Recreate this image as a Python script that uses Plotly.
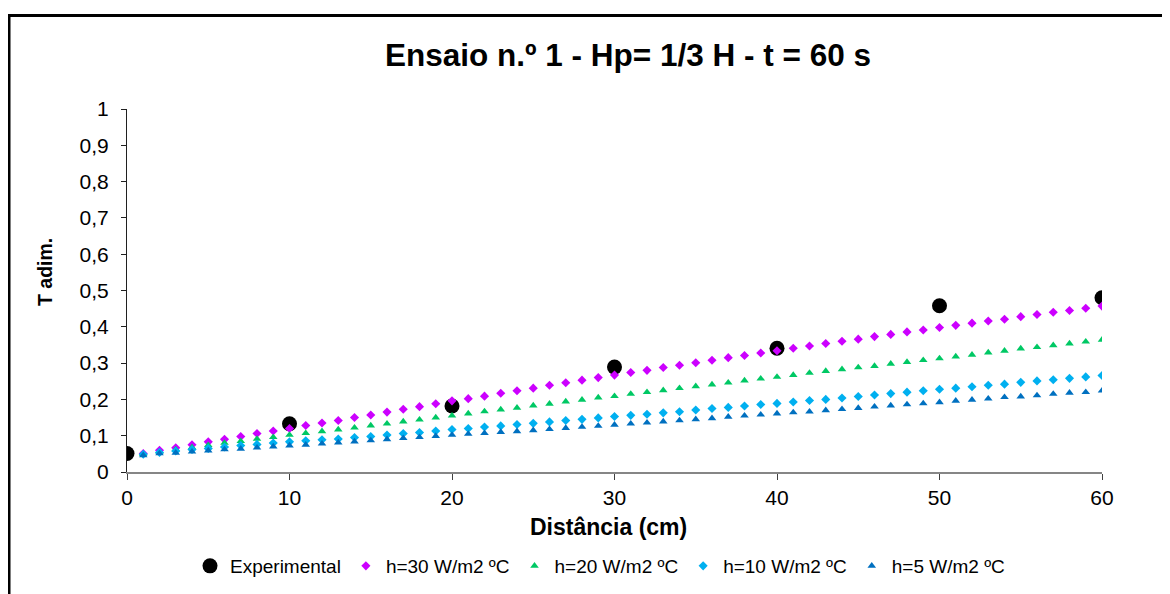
import plotly.graph_objects as go

# ---- data ----
exp_x = [0, 10, 20, 30, 40, 50, 60]
exp_y = [0.051, 0.133, 0.182, 0.289, 0.341, 0.458, 0.480]

model_x = list(range(1, 61))

h30 = [0.051, 0.060, 0.067, 0.075, 0.083, 0.090, 0.098, 0.106, 0.113, 0.120,
       0.128, 0.135, 0.142, 0.150, 0.157, 0.165, 0.173, 0.180, 0.188, 0.196,
       0.202, 0.209, 0.217, 0.224, 0.231, 0.239, 0.246, 0.253, 0.260, 0.267,
       0.274, 0.280, 0.288, 0.294, 0.301, 0.308, 0.315, 0.321, 0.328, 0.334,
       0.341, 0.347, 0.354, 0.360, 0.366, 0.373, 0.379, 0.386, 0.391, 0.398,
       0.404, 0.410, 0.416, 0.421, 0.428, 0.434, 0.440, 0.445, 0.451, 0.457]

h20 = [0.049, 0.056, 0.062, 0.068, 0.074, 0.080, 0.085, 0.091, 0.096, 0.102,
       0.107, 0.112, 0.117, 0.122, 0.128, 0.133, 0.139, 0.144, 0.150, 0.155,
       0.161, 0.167, 0.172, 0.177, 0.183, 0.188, 0.194, 0.199, 0.205, 0.209,
       0.215, 0.220, 0.225, 0.231, 0.236, 0.241, 0.246, 0.252, 0.257, 0.262,
       0.267, 0.273, 0.278, 0.283, 0.288, 0.292, 0.298, 0.303, 0.308, 0.313,
       0.318, 0.323, 0.329, 0.334, 0.340, 0.344, 0.349, 0.354, 0.359, 0.364]

h10 = [0.049, 0.054, 0.058, 0.062, 0.065, 0.069, 0.073, 0.076, 0.080, 0.083,
       0.086, 0.089, 0.091, 0.095, 0.098, 0.102, 0.106, 0.109, 0.113, 0.117,
       0.120, 0.124, 0.127, 0.131, 0.134, 0.138, 0.142, 0.145, 0.149, 0.153,
       0.156, 0.159, 0.163, 0.166, 0.171, 0.175, 0.178, 0.182, 0.186, 0.189,
       0.193, 0.197, 0.200, 0.204, 0.208, 0.212, 0.216, 0.220, 0.224, 0.228,
       0.231, 0.235, 0.239, 0.242, 0.247, 0.251, 0.254, 0.258, 0.262, 0.266]

h5 = [0.046, 0.051, 0.053, 0.056, 0.059, 0.062, 0.064, 0.067, 0.070, 0.073,
      0.075, 0.078, 0.081, 0.084, 0.087, 0.090, 0.093, 0.096, 0.099, 0.102,
      0.105, 0.107, 0.110, 0.112, 0.115, 0.118, 0.121, 0.124, 0.127, 0.130,
      0.133, 0.136, 0.139, 0.142, 0.145, 0.148, 0.152, 0.155, 0.158, 0.161,
      0.164, 0.166, 0.170, 0.173, 0.176, 0.180, 0.183, 0.186, 0.189, 0.192,
      0.196, 0.199, 0.202, 0.206, 0.208, 0.211, 0.215, 0.218, 0.220, 0.224]

names = ["Experimental", "h=30 W/m2 ºC", "h=20 W/m2 ºC", "h=10 W/m2 ºC", "h=5 W/m2 ºC"]
title_text = "Ensaio n.º 1 - Hp= 1/3 H - t = 60 s"
x_title = "Distância (cm)"
y_title = "T adim."

FONT = "Arial, Liberation Sans, sans-serif"

# page body has an 8px margin; compensate so the plot area lands where the reference has it
OFF = 8
L, R_EDGE, T, B_EDGE = 127, 1102, 109, 472   # target plot-area pixel box in the page
W, H = 1170, 594
PW, PH = R_EDGE - L, B_EDGE - T

def px(x):
    return (x - L) / PW

def py(y):
    return (B_EDGE - y) / PH

fig = go.Figure()
fig.add_trace(go.Scatter(x=exp_x, y=exp_y, mode="markers", name=names[0],
                         marker=dict(symbol="circle", size=15, color="black")))
fig.add_trace(go.Scatter(x=model_x, y=h30, mode="markers", name=names[1],
                         marker=dict(symbol="diamond", size=7, color="#CC00FF")))
fig.add_trace(go.Scatter(x=model_x, y=h20, mode="markers", name=names[2],
                         marker=dict(symbol="triangle-up", size=7.5, color="#00C864")))
fig.add_trace(go.Scatter(x=model_x, y=h10, mode="markers", name=names[3],
                         marker=dict(symbol="diamond", size=7, color="#00B0F0")))
fig.add_trace(go.Scatter(x=model_x, y=h5, mode="markers", name=names[4],
                         marker=dict(symbol="triangle-up", size=7.5, color="#0070C0")))

fig.update_layout(
    width=W, height=H,
    margin=dict(l=L - OFF, r=W - (L - OFF) - PW, t=T - OFF, b=H - (T - OFF) - PH, pad=0),
    paper_bgcolor="white", plot_bgcolor="white",
    separators=",.",
    font=dict(family=FONT, size=21, color="black"),
    showlegend=True,
    legend=dict(orientation="h", x=px(600), xanchor="center", y=py(566), yanchor="middle",
                font=dict(size=19), itemsizing="trace", tracegroupgap=0, itemwidth=30,
                bgcolor="rgba(0,0,0,0)"),
    title=dict(text="<b>" + title_text + "</b>", x=px(628), xref="paper", xanchor="center",
               y=1 - (55 - OFF) / H, yref="container", yanchor="middle",
               font=dict(size=31.5, family=FONT)),
)

fig.update_xaxes(range=[0, 60], dtick=10, tick0=0, showgrid=False, zeroline=False,
                 showline=True, linecolor="#868686", linewidth=2,
                 ticks="outside", ticklen=6, tickcolor="#404040", tickwidth=1,
                 tickfont=dict(size=21))
fig.update_yaxes(range=[0, 1], dtick=0.1, tick0=0, showgrid=False, zeroline=False,
                 showline=True, linecolor="#202020", linewidth=1,
                 ticks="outside", ticklen=5, tickcolor="#202020", tickwidth=1,
                 ticklabelstandoff=8, tickfont=dict(size=21))

fig.add_annotation(text="<b>" + x_title + "</b>", xref="paper", yref="paper",
                   x=px(608), y=py(527), xanchor="center", yanchor="middle",
                   showarrow=False, font=dict(size=23, family=FONT))
fig.add_annotation(text="<b>" + y_title + "</b>", xref="paper", yref="paper",
                   x=px(45), y=py(272), xanchor="center", yanchor="middle",
                   textangle=-90, showarrow=False, font=dict(size=19.5, family=FONT))

# chart-area frame (extends past the picture on the right and bottom)
fig.add_shape(type="rect", xref="paper", yref="paper",
              x0=px(9), x1=px(1190), y0=py(620), y1=py(15.5),
              line=dict(color="black", width=3), fillcolor="rgba(0,0,0,0)", layer="below")

fig.write_html("out.html")
